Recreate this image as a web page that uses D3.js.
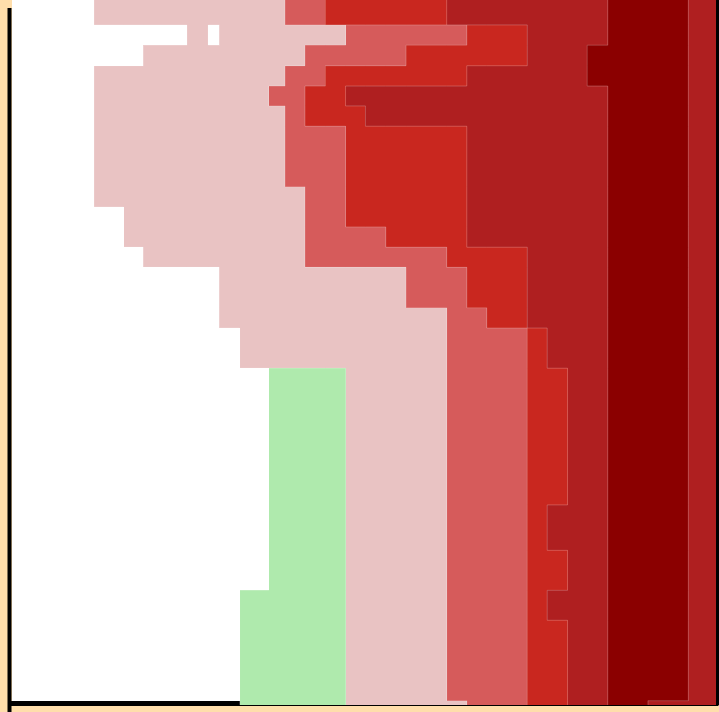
<!DOCTYPE html>
<html>
<head>
<meta charset="utf-8">
<script src="https://cdn.jsdelivr.net/npm/d3@7"></script>
<style>
  html, body { margin: 0; padding: 0; background: #ffdeab; overflow: hidden; }
  svg { display: block; }
</style>
</head>
<body>
<svg id="chart" width="719" height="712"></svg>
<script>
// Bin edges along x (columns) and y (rows), in data units
const xEdges = [0, 4.08, 5.55, 6.54, 8.70, 9.76, 10.32, 11.32, 12.76, 13.58, 14.57,
  15.59, 16.59, 17.58, 18.59, 19.60, 21.62, 22.62, 23.61, 25.63, 26.62, 27.63,
  28.61, 29.63, 31.63, 33.64, 35.00];
const yEdges = [0, 1.24, 2.25, 3.27, 4.28, 5.27, 6.28, 9.29, 10.30, 11.29, 12.30,
  13.30, 15.31, 16.32, 18.32, 25.12, 27.38, 29.37, 30.86, 34.86, 35.07];

// Level code of every cell, one string per row (w = no value)
const levelCodes = ['p', 'm', 'r', 'd', 'k', 'g'];
const gridRows = [
  'wppppppppmmrrrrrdddddddkkd',
  'wwwwpwppppppmmmmmrrddddkkd',
  'wwwpppppppmmmmmrrrrdddkkkd',
  'wppppppppmmrrrrrrdddddkkkd',
  'wpppppppmmrrdddddddddddkkd',
  'wppppppppmrrrddddddddddkkd',
  'wppppppppmmmrrrrrddddddkkd',
  'wpppppppppmmrrrrrddddddkkd',
  'wwppppppppmmrrrrrddddddkkd',
  'wwppppppppmmmmrrrddddddkkd',
  'wwwpppppppmmmmmmrrrddddkkd',
  'wwwwwwpppppppppmmrrddddkkd',
  'wwwwwwppppppppppmmrddddkkd',
  'wwwwwwwpppppppppmmmrdddkkd',
  'wwwwwwwwggggppppmmmrrddkkd',
  'wwwwwwwwggggppppmmmrdddkkd',
  'wwwwwwwwggggppppmmmrrddkkd',
  'wwwwwwwgggggppppmmmrdddkkd',
  'wwwwwwwgggggppppmmmrrddkkd',
  'wwwwwwwgggggpppppmmrrddkdd'
];

const levelColors = ['#e9c3c3', '#d65b5b', '#c9271f', '#af1f20', '#8b0000', '#afeaad'];

const svg = d3.select('#chart');
const x = d3.scaleLinear().domain([0, 35]).range([12, 715.7]);
const y = d3.scaleLinear().domain([0, 35]).range([0, 703.5]);
const color = d3.scaleOrdinal().domain(levelCodes).range(levelColors);

// Plot background
svg.append('rect')
  .attr('x', x(0)).attr('y', y(0))
  .attr('width', x(35) - x(0)).attr('height', 701)
  .attr('fill', '#ffffff');

// Frame axes (no ticks)
function styleAxis(g, w) {
  g.select('.domain').attr('stroke', '#000').attr('stroke-width', w)
    .attr('stroke-linecap', 'square');
  g.selectAll('.tick').remove();
}
svg.append('g').attr('transform', 'translate(-0.5,0)')
  .call(d3.axisLeft(y).tickValues([]).tickSizeOuter(0).offset(10))
  .call(g => styleAxis(g, 4));
svg.append('g').attr('transform', 'translate(0,703.5)')
  .call(d3.axisBottom(x).tickValues([]).tickSizeOuter(0).offset(0))
  .call(g => styleAxis(g, 5));
svg.append('g').attr('transform', 'translate(717.5,0)')
  .call(d3.axisRight(y).tickValues([]).tickSizeOuter(0).offset(0))
  .call(g => styleAxis(g, 3.5));

// Cells
const cells = [];
gridRows.forEach((row, ri) => {
  row.split('').forEach((code, ci) => {
    if (code !== 'w') cells.push({ code, ci, ri });
  });
});

svg.append('g')
  .attr('shape-rendering', 'crispEdges')
  .selectAll('rect')
  .data(cells)
  .join('rect')
  .attr('x', d => x(xEdges[d.ci]))
  .attr('y', d => y(yEdges[d.ri]))
  .attr('width', d => x(xEdges[d.ci + 1]) - x(xEdges[d.ci]))
  .attr('height', d => y(yEdges[d.ri + 1]) - y(yEdges[d.ri]))
  .attr('fill', d => color(d.code));

// Outlines between neighbouring cells of different levels
const codeAt = (ri, ci) => (gridRows[ri] || '')[ci];
const path = d3.path();
gridRows.forEach((row, ri) => {
  for (let ci = 0; ci < row.length; ci++) {
    const c = row[ci];
    const right = codeAt(ri, ci + 1);
    if (right !== undefined && right !== c) {
      path.moveTo(x(xEdges[ci + 1]), y(yEdges[ri]));
      path.lineTo(x(xEdges[ci + 1]), y(yEdges[ri + 1]));
    }
    const below = codeAt(ri + 1, ci);
    if (below !== undefined && below !== c) {
      path.moveTo(x(xEdges[ci]), y(yEdges[ri + 1]));
      path.lineTo(x(xEdges[ci + 1]), y(yEdges[ri + 1]));
    }
  }
});
svg.append('path')
  .attr('d', path.toString())
  .attr('fill', 'none')
  .attr('stroke', '#ffffff')
  .attr('stroke-opacity', 0.22)
  .attr('stroke-width', 1);
</script>
</body>
</html>
